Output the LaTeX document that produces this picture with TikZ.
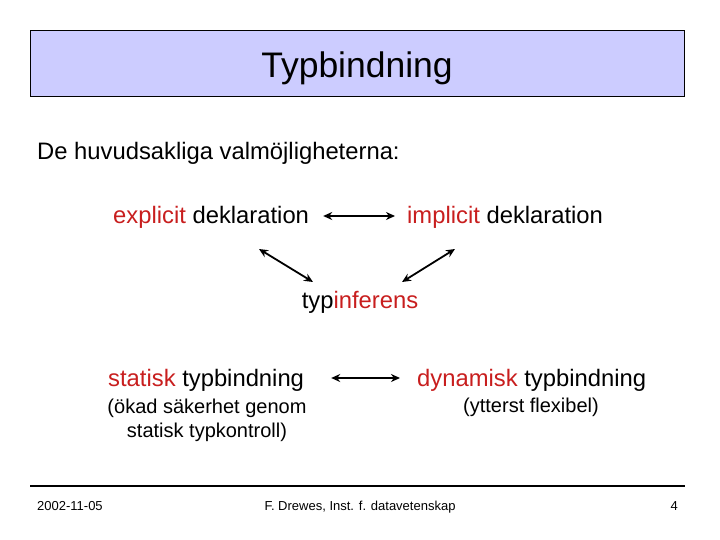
\documentclass[tikz,border=0pt]{standalone}
\usepackage{fontspec}
\setmainfont{Liberation Sans}
\usetikzlibrary{calc,arrows.meta}
\definecolor{titlefill}{RGB}{204,204,255}
\definecolor{redword}{RGB}{200,30,30}
\newcommand{\rw}[1]{\textcolor{redword}{#1}}
\tikzset{
  txt/.style={inner sep=0pt,anchor=base west,font=\fontsize{23.8}{28}\selectfont},
  subtxt/.style={inner sep=0pt,anchor=base,align=center,font=\fontsize{20}{23.5}\selectfont},
  foot/.style={inner sep=0pt,font=\fontsize{13}{15}\selectfont},
  arr/.style={{Stealth[length=9pt,width=8pt]}-{Stealth[length=9pt,width=8pt]},line width=1.8pt}
}
\begin{document}
\begin{tikzpicture}[x=1pt,y=-1pt]
\useasboundingbox (0,0) rectangle (720,540);
\node[draw=black,line width=0.8pt,fill=titlefill,minimum width=654pt,minimum height=66pt,inner sep=0pt] (titlebox) at (357,63) {};
\node[inner sep=0pt,anchor=base,font=\fontsize{35.5}{40}\selectfont] (title) at (357,78) {Typbindning};
\node[txt] (intro) at (37,160) {De huvudsakliga valmöjligheterna:};
\node[txt] (expl) at (113,224) {\rw{explicit} deklaration};
\node[txt] (impl) at (407,224) {\rw{implicit} deklaration};
\node[txt,anchor=base] (typ) at (360,308) {typ\rw{inferens}};
\node[txt] (stat) at (108,386) {\rw{statisk} typbindning};
\node[txt] (dyn) at (417,386) {\rw{dynamisk} typbindning};
\node[subtxt] (statsub) at (207,437) {(ökad säkerhet genom\\statisk typkontroll)};
\node[subtxt] (dynsub) at (531,412) {(ytterst flexibel)};
\draw[arr] ($(expl.base east)+(14,-8)$) -- ($(impl.base west)+(-12,-8)$);
\draw[arr] ($(expl.base west)+(146,25)$) -- ($(typ.base)+(-47,-26)$);
\draw[arr] ($(impl.base west)+(48,25)$) -- ($(typ.base)+(42,-26)$);
\draw[arr] ($(stat.base east)+(27,-8)$) -- ($(dyn.base west)+(-17,-8)$);
\coordinate (fl) at (30,486);
\coordinate (fr) at (685,486);
\draw[line width=1.2pt] (fl) -- (fr);
\node[foot,anchor=base west] (date) at (37,510) {2002-11-05};
\node[foot,anchor=base] (author) at (360,510) {F. Drewes, Inst. f. datavetenskap};
\node[foot,anchor=base east] (page) at (678,510) {4};
\end{tikzpicture}
\end{document}
